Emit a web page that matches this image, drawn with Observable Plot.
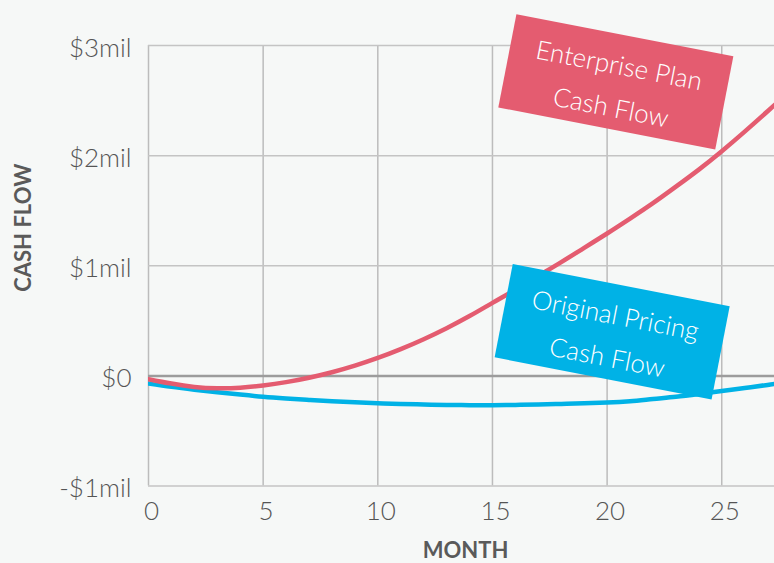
<!DOCTYPE html>
<html>
<head>
<meta charset="utf-8">
<script src="https://cdn.jsdelivr.net/npm/d3@7"></script>
<script src="https://cdn.jsdelivr.net/npm/@observablehq/plot@0.6"></script>
<style>
  html, body { margin: 0; padding: 0; background: #f6f8f7; }
  #chart { width: 774px; height: 563px; overflow: hidden; }
</style>
</head>
<body>
<div id="chart"></div>
<script>
// Monthly cash flow, in millions of dollars
const months = [0,1,2,3,4,5,6,7,8,9,10,11,12,13,14,15,16,17,18,19,20,21,22,23,24,25,26,27,28];
const enterprise = [-0.03,-0.07,-0.10,-0.112,-0.107,-0.087,-0.057,-0.017,0.033,0.093,0.163,0.243,0.333,0.433,0.543,0.663,0.783,0.908,1.033,1.163,1.293,1.428,1.568,1.718,1.873,2.04,2.218,2.403,2.593];
const original = [-0.07,-0.10,-0.125,-0.148,-0.17,-0.19,-0.205,-0.218,-0.23,-0.24,-0.248,-0.255,-0.26,-0.264,-0.266,-0.266,-0.264,-0.26,-0.255,-0.249,-0.242,-0.23,-0.21,-0.19,-0.165,-0.138,-0.11,-0.082,-0.05];

// Axis ticks
const monthTicks = [0, 5, 10, 15, 20, 25];
const cashTicks = [-1, 0, 1, 2, 3];

// Callout labels, anchored in data space (month, $mil)
const calloutText = ["Enterprise Plan\nCash Flow", "Original Pricing\nCash Flow"];
const calloutMonth = [20.38, 20.22];
const calloutCash = [2.67, 0.40];

const RED = "#e45c70";
const BLUE = "#00b2e6";
const FONT = "Lato, 'Open Sans', sans-serif";

const enterpriseData = months.map((m, i) => ({month: m, cash: enterprise[i]}));
const originalData = months.map((m, i) => ({month: m, cash: original[i]}));
const callouts = calloutText.map((t, i) => ({text: t, month: calloutMonth[i], cash: calloutCash[i]}));

// A tilted rectangle drawn as a dot symbol
function tiltedBox(w, h, deg) {
  const a = deg * Math.PI / 180, c = Math.cos(a), s = Math.sin(a);
  return {
    draw(ctx) {
      const pts = [[-w/2, -h/2], [w/2, -h/2], [w/2, h/2], [-w/2, h/2]]
        .map(([x, y]) => [x * c - y * s, x * s + y * c]);
      ctx.moveTo(pts[0][0], pts[0][1]);
      for (let k = 1; k < pts.length; ++k) ctx.lineTo(pts[k][0], pts[k][1]);
      ctx.closePath();
    }
  };
}

const fmtCash = d => d < 0 ? `-$${-d}mil` : d === 0 ? "$0" : `$${d}mil`;

const chart = Plot.plot({
  width: 774,
  height: 563,
  marginLeft: 148,
  marginRight: 0,
  marginTop: 45,
  marginBottom: 77.5,
  style: {background: "#f6f8f7", fontFamily: FONT},
  x: {domain: [0, 27.3]},
  y: {domain: [-1, 3]},
  marks: [
    Plot.gridX(monthTicks, {stroke: "#bcbcbc", strokeOpacity: 1, strokeWidth: 1.5}),
    Plot.gridY(cashTicks, {stroke: "#c4c4c4", strokeOpacity: 1, strokeWidth: 1.5}),
    Plot.ruleY([0], {stroke: "#9c9c9c", strokeWidth: 2.5}),
    Plot.axisX(monthTicks, {tickSize: 0, tickPadding: 0, dy: 16, dx: 3, fontSize: 26, fontWeight: 300, fill: "#555", label: null}),
    Plot.axisY(cashTicks, {tickSize: 0, tickPadding: 17, dy: 3, fontSize: 26, fontWeight: 300, fill: "#555", tickFormat: fmtCash, label: null}),
    Plot.text(["CASH FLOW"], {frameAnchor: "left", textAnchor: "middle", rotate: -90, dx: -125, dy: -38, fontSize: 22, fontWeight: 700, fill: "#5a5a5a"}),
    Plot.text(["MONTH"], {frameAnchor: "bottom", textAnchor: "middle", dx: 4, dy: 72, fontSize: 22, fontWeight: 700, fill: "#5a5a5a"}),
    Plot.line(originalData, {x: "month", y: "cash", stroke: BLUE, strokeWidth: 4.5, curve: "natural", clip: true}),
    Plot.line(enterpriseData, {x: "month", y: "cash", stroke: RED, strokeWidth: 4.5, curve: "natural", clip: true}),
    Plot.dot(callouts.slice(0, 1), {x: "month", y: "cash", symbol: tiltedBox(221, 95, 11), fill: RED, stroke: "none", r: 10}),
    Plot.dot(callouts.slice(1), {x: "month", y: "cash", symbol: tiltedBox(221, 95, 11), fill: BLUE, stroke: "none", r: 10}),
    Plot.text(callouts, {x: "month", y: "cash", text: "text", rotate: 11, fill: "white", fontSize: 26, fontWeight: 300, lineHeight: 1.65})
  ]
});

document.getElementById("chart").appendChild(chart);
</script>
</body>
</html>
